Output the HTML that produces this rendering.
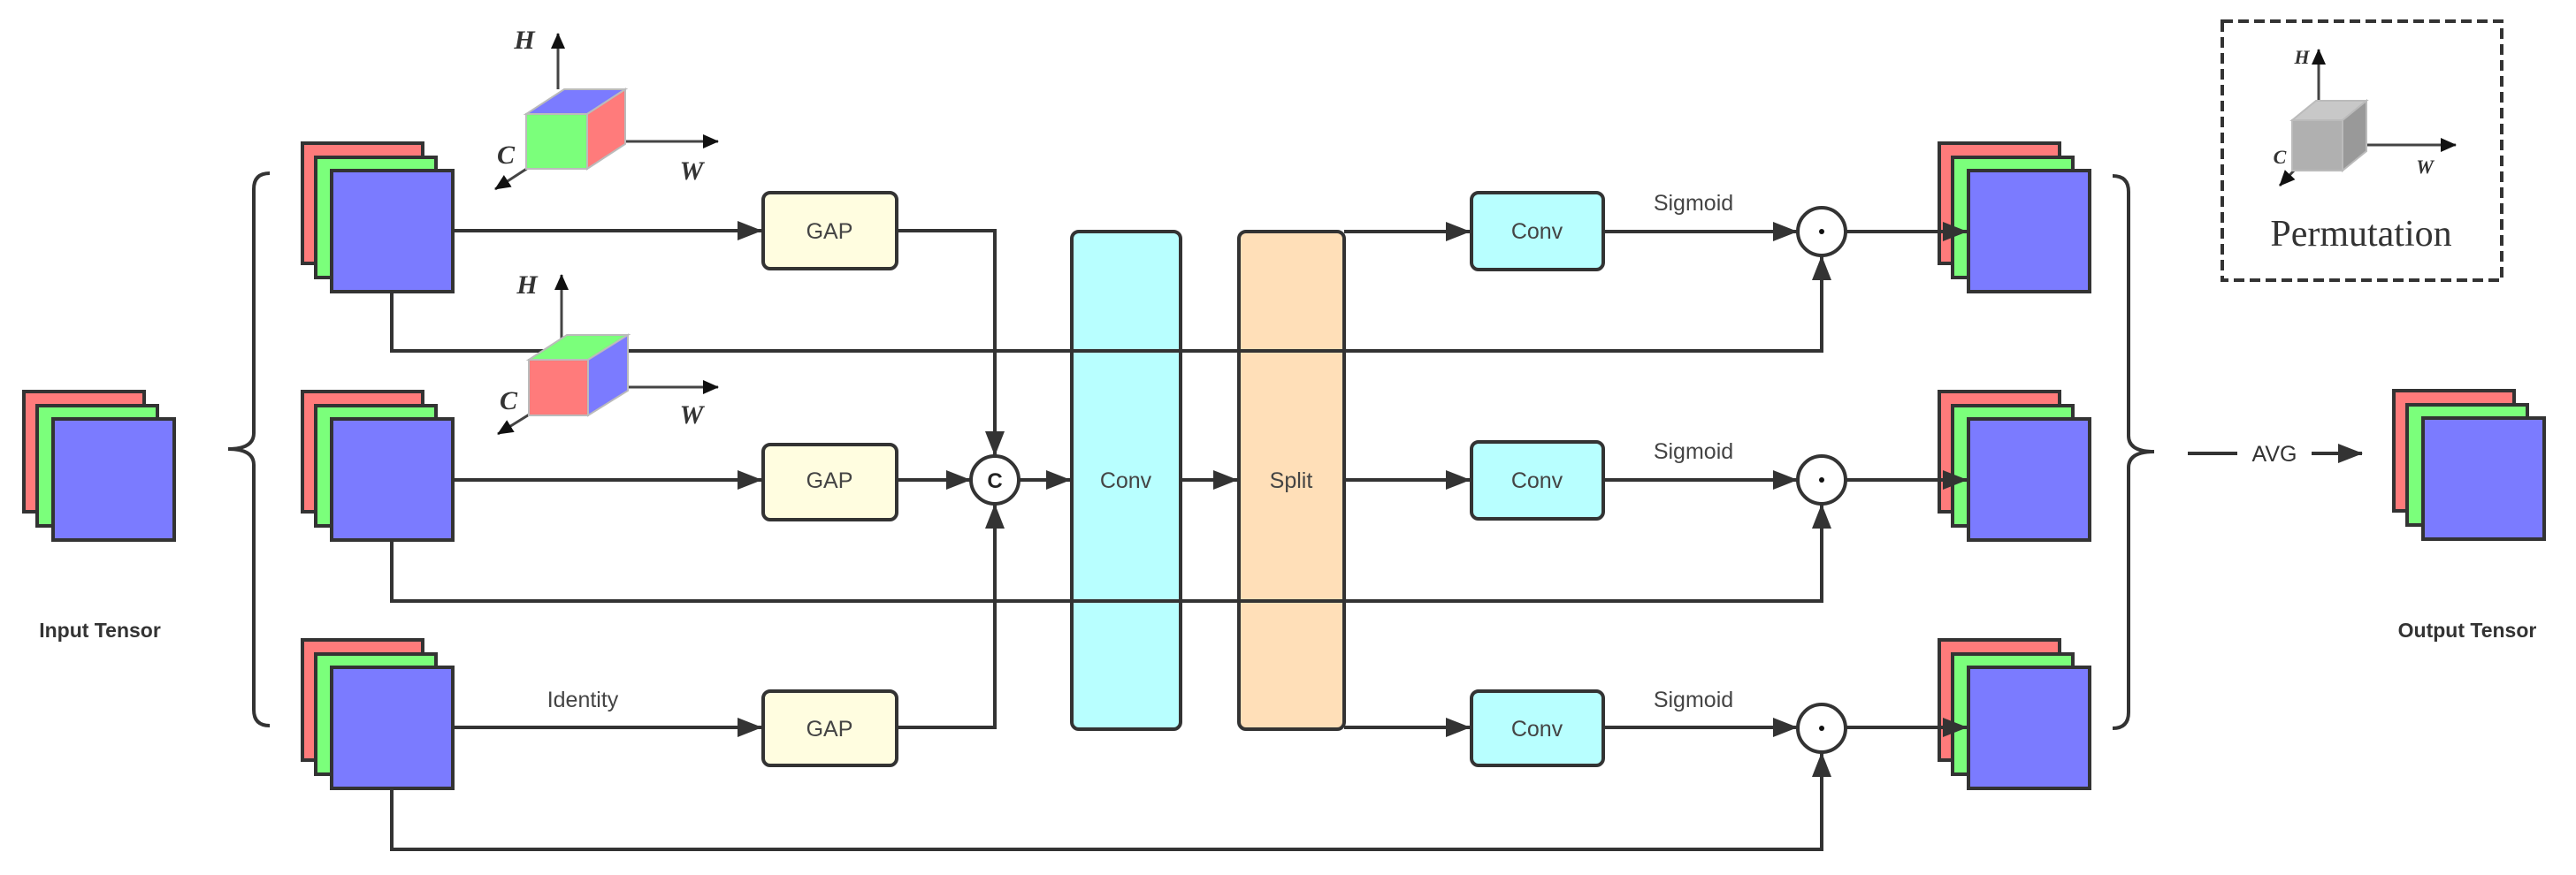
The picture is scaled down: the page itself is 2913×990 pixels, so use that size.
<!DOCTYPE html>
<html><head><meta charset="utf-8"><style>html,body{margin:0;padding:0;background:#fff}svg{display:block}</style></head><body>
<svg width="2913" height="990" viewBox="0 0 2913 990" xmlns="http://www.w3.org/2000/svg">
<defs>
<marker id="b" markerWidth="28" markerHeight="22" refX="27" refY="11" orient="auto" markerUnits="userSpaceOnUse"><path d="M0,0 L28,11 L0,22z" fill="#333"/></marker>
<marker id="s" markerWidth="18" markerHeight="16" refX="17" refY="8" orient="auto" markerUnits="userSpaceOnUse"><path d="M0,0 L18,8 L0,16z" fill="#111"/></marker>
<g id="st"><rect x="0" y="0" width="136" height="136" fill="#ff7b7b" stroke="#333" stroke-width="4"/><rect x="15" y="16" width="136" height="136" fill="#7bff7b" stroke="#333" stroke-width="4"/><rect x="33" y="31" width="137" height="137" fill="#7b7bff" stroke="#333" stroke-width="4"/></g>
</defs>
<g font-family="Liberation Sans, sans-serif" fill="none" stroke="#333" stroke-width="4">
<use href="#st" x="27" y="443"/>
<use href="#st" x="342" y="162"/>
<use href="#st" x="342" y="443"/>
<use href="#st" x="342" y="724"/>
<use href="#st" x="2193" y="162"/>
<use href="#st" x="2193" y="443"/>
<use href="#st" x="2193" y="724"/>
<use href="#st" x="2707" y="442"/>
<path d="M305,196 Q287,196 287,214 L287,490 Q287,508 258,508 Q287,508 287,526 L287,803 Q287,821 305,821"/>
<path d="M2389,199 Q2407,199 2407,217 L2407,493 Q2407,511 2436,511 Q2407,511 2407,529 L2407,806 Q2407,824 2389,824"/>
<path d="M512,261 L861,261" marker-end="url(#b)"/>
<path d="M512,543 L861,543" marker-end="url(#b)"/>
<path d="M512,823 L861,823" marker-end="url(#b)"/>
<path d="M1014,261 L1125,261 L1125,515" marker-end="url(#b)"/>
<path d="M1014,543 L1097,543" marker-end="url(#b)"/>
<path d="M1014,823 L1125,823 L1125,571" marker-end="url(#b)"/>
<path d="M1153,543 L1210,543" marker-end="url(#b)"/>
<path d="M1335,543 L1399,543" marker-end="url(#b)"/>
<path d="M1520,262 L1662,262" marker-end="url(#b)"/>
<path d="M1520,543 L1662,543" marker-end="url(#b)"/>
<path d="M1520,823 L1662,823" marker-end="url(#b)"/>
<path d="M1813,262 L2032,262" marker-end="url(#b)"/>
<path d="M1813,543 L2032,543" marker-end="url(#b)"/>
<path d="M1813,823 L2032,823" marker-end="url(#b)"/>
<path d="M2088,262 L2224,262" marker-end="url(#b)"/>
<path d="M2088,543 L2224,543" marker-end="url(#b)"/>
<path d="M2088,823 L2224,823" marker-end="url(#b)"/>
<path d="M2474,513 L2530,513 M2614,513 L2671,513" marker-end="url(#b)"/>
<rect x="863" y="218" width="151" height="86" rx="8" fill="#fffde0"/>
<rect x="863" y="503" width="151" height="85" rx="8" fill="#fffde0"/>
<rect x="863" y="782" width="151" height="84" rx="8" fill="#fffde0"/>
<rect x="1212" y="262" width="123" height="563" rx="8" fill="#b8ffff"/>
<rect x="1401" y="262" width="119" height="563" rx="8" fill="#ffdfb8"/>
<rect x="1664" y="218" width="149" height="87" rx="8" fill="#b8ffff"/>
<rect x="1664" y="500" width="149" height="87" rx="8" fill="#b8ffff"/>
<rect x="1664" y="782" width="149" height="84" rx="8" fill="#b8ffff"/>
<path d="M443,330 L443,397 L2060,397 L2060,290" marker-end="url(#b)"/>
<path d="M443,613 L443,680 L2060,680 L2060,571" marker-end="url(#b)"/>
<path d="M443,892 L443,961 L2060,961 L2060,852" marker-end="url(#b)"/>
<circle cx="1125" cy="543" r="27" fill="#fff"/>
<circle cx="2060" cy="262" r="27" fill="#fff"/>
<circle cx="2060" cy="543" r="27" fill="#fff"/>
<circle cx="2060" cy="824" r="27" fill="#fff"/>
<rect x="2513" y="24" width="316" height="293" stroke-dasharray="12,6"/>
</g>
<g fill="#111"><circle cx="2060" cy="262" r="3"/><circle cx="2060" cy="543" r="3"/><circle cx="2060" cy="824" r="3"/></g>
<g font-family="Liberation Sans, sans-serif" font-size="25" fill="#444" text-anchor="middle">
<text x="938" y="270">GAP</text><text x="938" y="552">GAP</text><text x="938" y="833">GAP</text>
<text x="1273" y="552">Conv</text><text x="1460" y="552">Split</text>
<text x="1738" y="270">Conv</text><text x="1738" y="552">Conv</text><text x="1738" y="833">Conv</text>
<text x="1915" y="238">Sigmoid</text><text x="1915" y="519">Sigmoid</text><text x="1915" y="800">Sigmoid</text>
<text x="659" y="800">Identity</text>
<text x="2572" y="522" fill="#333">AVG</text>
<text x="1125" y="552" font-weight="bold" font-size="24" fill="#222">C</text>
<text x="113" y="721" font-weight="bold" font-size="23" fill="#333">Input Tensor</text>
<text x="2790" y="721" font-weight="bold" font-size="23" fill="#333">Output Tensor</text>
</g>
<g stroke="#444" stroke-width="3" fill="none">
<path d="M631,101 L631,38" marker-end="url(#s)"/>
<path d="M664,160 L812,160" marker-end="url(#s)"/>
<path d="M597,190 L560,214" marker-end="url(#s)"/>
<path d="M635,385 L635,311" marker-end="url(#s)"/>
<path d="M665,438 L812,438" marker-end="url(#s)"/>
<path d="M600,468 L563,491" marker-end="url(#s)"/>
<path d="M2622,118 L2622,56" marker-end="url(#s)"/>
<path d="M2649,164 L2777,164" marker-end="url(#s)"/>
<path d="M2594,193 L2578,210" marker-end="url(#s)"/>
</g>
<g stroke="#bbb" stroke-width="2">
<polygon points="595,129 638,101 707,101 664,129" fill="#7b7bff"/>
<polygon points="664,129 707,101 707,163 664,191" fill="#ff7b7b"/>
<rect x="595" y="129" width="69" height="62" fill="#7bff7b"/>
<polygon points="598,407 641,379 710,379 665,407" fill="#7bff7b"/>
<polygon points="665,407 710,379 710,442 665,470" fill="#7b7bff"/>
<rect x="598" y="407" width="67" height="63" fill="#ff7b7b"/>
<polygon points="2592,136 2619,114 2676,114 2649,136" fill="#c8c8c8"/>
<polygon points="2649,136 2676,114 2676,171 2649,193" fill="#999"/>
<rect x="2592" y="136" width="57" height="57" fill="#b0b0b0"/>
</g>
<g font-family="Liberation Serif, serif" font-style="italic" font-weight="bold" font-size="30" fill="#333" text-anchor="middle">
<text x="593" y="55">H</text><text x="782" y="203">W</text><text x="572" y="185">C</text>
<text x="596" y="332">H</text><text x="782" y="479">W</text><text x="575" y="463">C</text>
<text x="2603" y="72" font-size="22">H</text><text x="2742" y="196" font-size="22">W</text><text x="2578" y="185" font-size="22">C</text>
</g>
<text x="2670" y="278" font-family="Liberation Serif, serif" font-size="42" fill="#333" text-anchor="middle">Permutation</text>
</svg>
</body></html>
